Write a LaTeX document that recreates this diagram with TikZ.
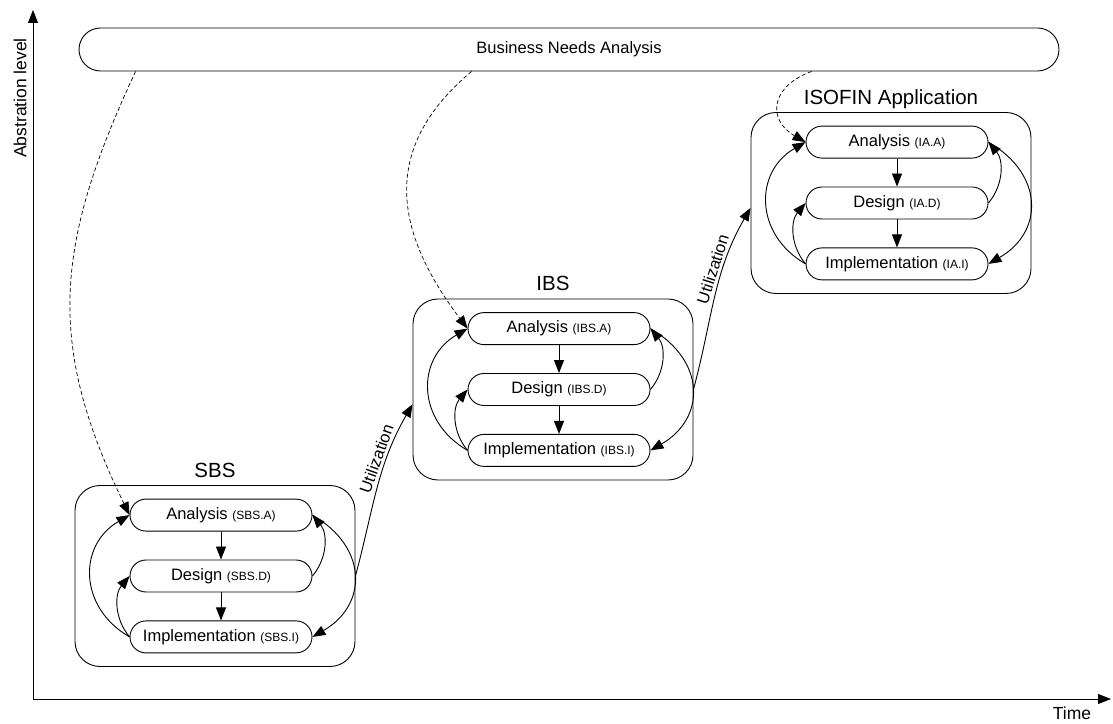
\documentclass[tikz,border=0pt]{standalone}
\usepackage{fontspec}
\setmainfont{Liberation Sans}
\usepackage{tikz}
\usetikzlibrary{arrows.meta}
\usetikzlibrary{positioning}
\usetikzlibrary{math}
\tikzstyle{phase} = [rectangle, rounded corners=16pt, minimum width=182pt, minimum height=32pt, inner sep=0pt, text centered, draw=black, fill=white, font=\fontsize{16.5}{19}\selectfont]
\tikzstyle{stage} = [rectangle, rounded corners=25pt, minimum width=280pt, minimum height=181pt, draw=black]
\tikzstyle{title} = [anchor=base, font=\fontsize{20.5}{24}\selectfont]
\tikzstyle{arrow} = [->]
\tikzstyle{needs} = [->, dash pattern=on 4pt off 2.5pt, line width=0.7pt]
\tikzstyle{label} = [font=\fontsize{16.5}{19}\selectfont]
\newcommand{\phasecode}[1]{{\fontsize{12}{14}\selectfont(#1)}}

\begin{document}
\begin{tikzpicture}[x=1pt, y=1pt, node distance=28pt, line width=0.9pt, >={Triangle[length=13pt,width=10pt]}]

  \useasboundingbox (0,0) rectangle (1113,723);
  \tikzmath{\ox = 221; \oy = 147; \dx = 338; \dy = 186.5;}

  % axes
  \coordinate (o) at (33,24);
  \coordinate (ytop) at (33,713);
  \coordinate (xend) at (1111,24);
  \draw[->] (o) -- (ytop);
  \draw[->] (o) -- (xend);
  \node[label, rotate=90, font=\fontsize{17.5}{20}\selectfont] (ylab) at (20,625) {Abstration level};
  \node[label, font=\fontsize{17.5}{20}\selectfont] (xlab) at (1072,10) {Time};

  % Business needs
  \node[rectangle, rounded corners=21.5pt, minimum width=980pt, minimum height=43pt, draw, label] (bna) at (569,673.5) {Business Needs Analysis};

  % SBS
  \node[phase] (sbsD) at (\ox,\oy) {Design \phasecode{SBS.D}};
  \node[phase, above=of sbsD] (sbsA) {Analysis \phasecode{SBS.A}};
  \node[phase, below=of sbsD] (sbsI) {Implementation \phasecode{SBS.I}};
  \node[stage] (sbs) at ([xshift=-6pt]sbsD) {};
  \node[title] (sbsT) at ([yshift=8pt]sbs.north) {SBS};
  \draw[arrow] (sbsA) -- (sbsD);
  \draw[arrow] (sbsD) -- (sbsI);
  \draw[arrow] (sbsI.west) to[out=150, in=210, looseness=1.25] (sbsA.west);
  \draw[arrow] (sbsI.west) to[bend left=40] (sbsD.west);
  \draw[arrow] (sbsD.east) to[bend right=40] (sbsA.east);
  \draw[arrow] (sbsA.east) to[out=-30, in=30, looseness=1.35] (sbsI.east);

  % IBS
  \node[phase] (ibsD) at (\ox+\dx,\oy+\dy) {Design \phasecode{IBS.D}};
  \node[phase, above=of ibsD] (ibsA) {Analysis \phasecode{IBS.A}};
  \node[phase, below=of ibsD] (ibsI) {Implementation \phasecode{IBS.I}};
  \node[stage] (ibs) at ([xshift=-6pt]ibsD) {};
  \node[title] (ibsT) at ([yshift=8pt]ibs.north) {IBS};
  \draw[arrow] (ibsA) -- (ibsD);
  \draw[arrow] (ibsD) -- (ibsI);
  \draw[arrow] (ibsI.west) to[out=150, in=210, looseness=1.25] (ibsA.west);
  \draw[arrow] (ibsI.west) to[bend left=40] (ibsD.west);
  \draw[arrow] (ibsD.east) to[bend right=40] (ibsA.east);
  \draw[arrow] (ibsA.east) to[out=-30, in=30, looseness=1.35] (ibsI.east);

  % ISOFIN Application
  \node[phase] (iaD) at (\ox+2*\dx,\oy+2*\dy) {Design \phasecode{IA.D}};
  \node[phase, above=of iaD] (iaA) {Analysis \phasecode{IA.A}};
  \node[phase, below=of iaD] (iaI) {Implementation \phasecode{IA.I}};
  \node[stage] (ia) at ([xshift=-6pt]iaD) {};
  \node[title] (iaT) at ([yshift=8pt]ia.north) {ISOFIN Application};
  \draw[arrow] (iaA) -- (iaD);
  \draw[arrow] (iaD) -- (iaI);
  \draw[arrow] (iaI.west) to[out=150, in=210, looseness=1.25] (iaA.west);
  \draw[arrow] (iaI.west) to[bend left=40] (iaD.west);
  \draw[arrow] (iaD.east) to[bend right=40] (iaA.east);
  \draw[arrow] (iaA.east) to[out=-30, in=30, looseness=1.35] (iaI.east);

  % utilization
  \draw[arrow] (sbs.east) to[out=75, in=240] node[label, sloped, above, pos=0.66] {Utilization} (ibs.186);
  \draw[arrow] (ibs.east) to[out=75, in=240] node[label, sloped, above, pos=0.64] {Utilization} (ia.182);

  % business needs into analysis
  \draw[needs] ([xshift=57pt]bna.south west) to[out=245, in=116, looseness=1.1] (sbsA.west);
  \draw[needs] ([xshift=393pt]bna.south west) to[out=220, in=127, looseness=1.2] (ibsA.west);
  \draw[needs] ([xshift=733pt]bna.south west) to[out=200, in=150, looseness=1.6] (iaA.west);

\end{tikzpicture}
\end{document}
